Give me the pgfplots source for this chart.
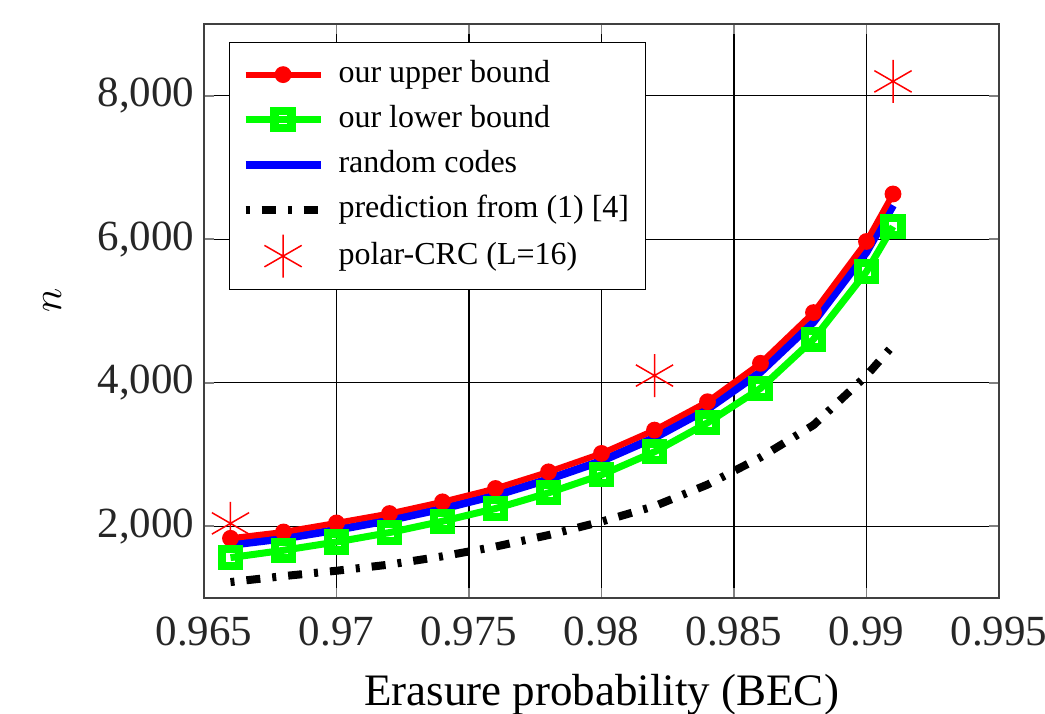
\documentclass[border=0pt]{standalone}
\usepackage{pgfplots}
\pgfplotsset{compat=1.18}
\usepackage{fontspec}
\setmainfont{Liberation Serif}
\begin{document}
\begin{tikzpicture}
\begin{axis}[
 name=ax,
 scale only axis, width=397.5pt, height=287pt,
 xmin=0.965, xmax=0.995, ymin=1000, ymax=9000,
 xtick={0.965,0.97,0.975,0.98,0.985,0.99,0.995},
 xticklabels={0.965,0.97,0.975,0.98,0.985,0.99,0.995},
 ytick={2000,4000,6000,8000},
 yticklabels={{2,000},{4,000},{6,000},{8,000}},
 grid=major,
 major grid style={black, line width=0.7pt},
 axis line style={black!75, line width=1pt},
 tick style={black!50, line width=0.8pt},
 major tick length=5pt,
 tick label style={font=\fontsize{21.5}{25}\selectfont, text=black!85},
 xticklabel style={anchor=base, yshift=-23.5pt},
 yticklabel style={anchor=east, xshift=-1.3pt},
 xlabel={Erasure probability (BEC)},
 ylabel={$n$},
 label style={font=\fontsize{22.5}{26}\selectfont},
 xlabel style={at={(axis description cs:0.5,-0.188)}, anchor=base},
 ylabel style={at={(axis description cs:-0.191,0.519)}, anchor=center},
 legend style={at={(axis description cs:0.0314,0.9686)}, anchor=north west,
   draw=black, line width=0.6pt, font=\fontsize{16}{19}\selectfont,
   inner sep=6pt, row sep=2.5pt, column sep=5pt,
   nodes={text height=12pt, text depth=4pt, inner sep=2pt}},
 legend cell align=left,
 legend image code/.code={\draw[mark repeat=2,mark phase=2] plot coordinates {(0pt,0pt)(18.75pt,0pt)(37.5pt,0pt)};},
]
% random codes (drawn first, beneath)
\addplot[blue, line width=4pt, forget plot] coordinates {
(0.966,1740) (0.968,1830) (0.970,1950) (0.972,2085) (0.974,2245) (0.976,2430) (0.978,2655)
(0.980,2910) (0.982,3234) (0.984,3633) (0.986,4150) (0.988,4848) (0.990,5823) (0.991,6473)};
\addplot[red, line width=3pt, mark=*, mark size=3.7pt, mark options={solid, line width=1pt}] coordinates {
(0.966,1832) (0.968,1920) (0.970,2046) (0.972,2177) (0.974,2340) (0.976,2526) (0.978,2758)
(0.980,3015) (0.982,3340) (0.984,3735) (0.986,4271) (0.988,4978) (0.990,5969) (0.991,6631)};
\addlegendentry{our upper bound}
\addplot[green, line width=3.5pt, mark=square, mark size=4.2pt, mark options={solid, line width=4.2pt}] coordinates {
(0.966,1563) (0.968,1665) (0.970,1781) (0.972,1912) (0.974,2070) (0.976,2247) (0.978,2465)
(0.980,2716) (0.982,3037) (0.984,3442) (0.986,3922) (0.988,4606) (0.990,5550) (0.991,6178)};
\addlegendentry{our lower bound}
\addlegendimage{blue, line width=4pt}
\addlegendentry{random codes}
\addplot[black, line width=4pt, dash pattern=on 2pt off 6pt on 7pt off 6pt] coordinates {
(0.966,1222) (0.968,1305) (0.970,1380) (0.972,1466) (0.974,1581) (0.976,1716) (0.978,1877)
(0.980,2065) (0.982,2280) (0.984,2580) (0.986,2960) (0.988,3410) (0.990,4100) (0.991,4520)};
\addlegendentry{prediction from (1) [4]}
\addplot[red, only marks, mark=asterisk, mark size=10.75pt, mark options={line width=0.75pt}] coordinates {
(0.966,2040) (0.982,4100) (0.991,8200)};
\addlegendentry{polar-CRC (L=16)}
\end{axis}
\pgfresetboundingbox
\useasboundingbox ([shift={(-102pt,-57.5pt)}]ax.south west) rectangle ([shift={(23pt,12pt)}]ax.north east);
\end{tikzpicture}
\end{document}
